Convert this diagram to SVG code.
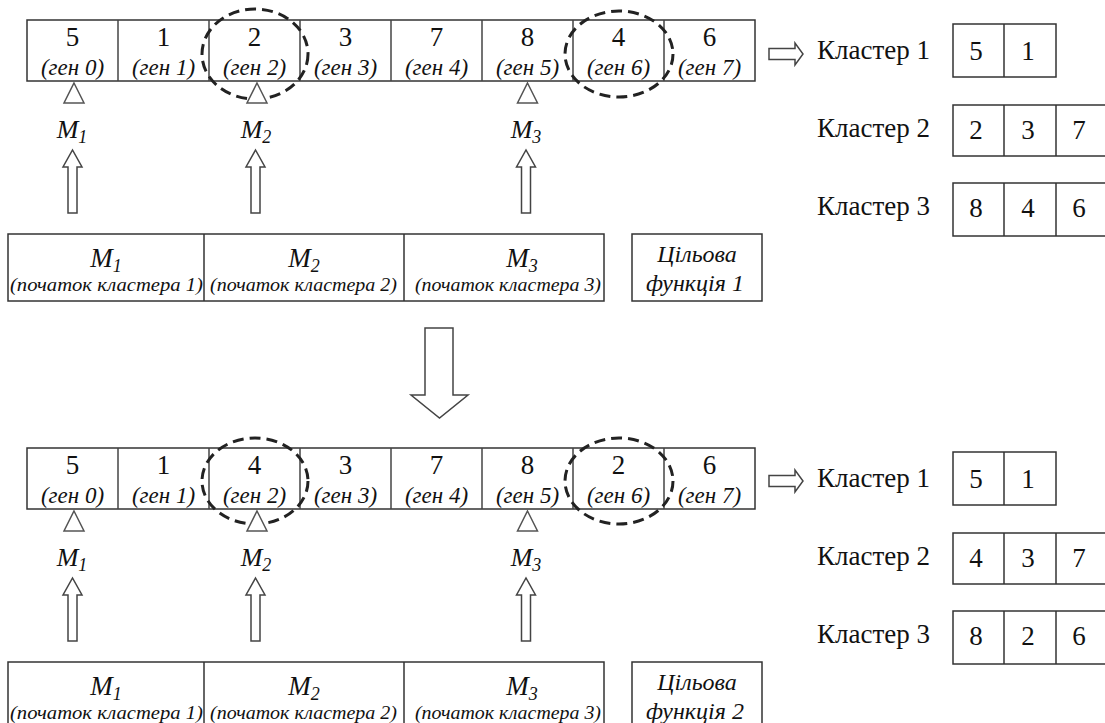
<svg xmlns="http://www.w3.org/2000/svg" width="1105" height="723" viewBox="0 0 1105 723">
<style>
text{font-family:"Liberation Serif","Times New Roman","DejaVu Serif",serif;fill:#111}
.cell{fill:#fff;stroke:#333;stroke-width:1.5}
.num{font-size:27px;text-anchor:middle}
.gen{font-style:italic;font-size:23px;text-anchor:middle}
.lbl{font-size:27px}
.m{font-style:italic;font-size:26px;text-anchor:middle}
.mb{font-style:italic;font-size:27px;text-anchor:middle}
.sub{font-size:18px}
.small{font-style:italic;font-size:19px}
.obj{font-style:italic;font-size:24px;text-anchor:middle}
.tri{fill:#fff;stroke:#555;stroke-width:1.5}
.harrow{fill:#fff;stroke:#444;stroke-width:1.5}
.dash{fill:none;stroke:#222;stroke-width:3;stroke-dasharray:11 6}
</style>
<defs>
<polygon id="upArrow" points="-4.5,0 -4.5,-46 -9.5,-46 0,-63 9.5,-46 4.5,-46 4.5,0"/>
<polygon id="triangle" points="0,0 10,20 -10,20"/>
<polygon id="rArrow" points="0,-5.5 26,-5.5 26,-11 34,0 26,11 26,5.5 0,5.5"/>
</defs>

<g id="chromosome1">
<rect class="cell" x="27" y="20" width="728" height="61"/>
<g stroke="#444" stroke-width="1.5">
<line x1="118" y1="20" x2="118" y2="81"/><line x1="209" y1="20" x2="209" y2="81"/><line x1="300" y1="20" x2="300" y2="81"/><line x1="391" y1="20" x2="391" y2="81"/><line x1="482" y1="20" x2="482" y2="81"/><line x1="573" y1="20" x2="573" y2="81"/><line x1="664" y1="20" x2="664" y2="81"/>
</g>
<text class="num" x="72.5" y="46">5</text><text class="num" x="163.5" y="46">1</text><text class="num" x="254.5" y="46">2</text><text class="num" x="345.5" y="46">3</text><text class="num" x="436.5" y="46">7</text><text class="num" x="527.5" y="46">8</text><text class="num" x="618.5" y="46">4</text><text class="num" x="709.5" y="46">6</text>
<text class="gen" x="72.5" y="75">(ген 0)</text><text class="gen" x="163.5" y="75">(ген 1)</text><text class="gen" x="254.5" y="75">(ген 2)</text><text class="gen" x="345.5" y="75">(ген 3)</text><text class="gen" x="436.5" y="75">(ген 4)</text><text class="gen" x="527.5" y="75">(ген 5)</text><text class="gen" x="618.5" y="75">(ген 6)</text><text class="gen" x="709.5" y="75">(ген 7)</text>
</g>
<g id="swapMarks1">
<ellipse class="dash" cx="255" cy="54" rx="53" ry="45"/>
<ellipse class="dash" cx="619" cy="54" rx="54" ry="43"/>
</g>
<g id="pointers1">
<use href="#triangle" class="tri" x="74" y="83"/>
<use href="#triangle" class="tri" x="257" y="83"/>
<use href="#triangle" class="tri" x="527.5" y="83"/>
<text class="m" x="72" y="138">M<tspan class="sub" dy="5">1</tspan></text>
<text class="m" x="256" y="138">M<tspan class="sub" dy="5">2</tspan></text>
<text class="m" x="526" y="138">M<tspan class="sub" dy="5">3</tspan></text>
</g>
<g id="connectors1">
<use href="#upArrow" class="harrow" x="72.5" y="213"/>
<use href="#upArrow" class="harrow" x="255.5" y="213"/>
<use href="#upArrow" class="harrow" x="526" y="213"/>
<use href="#rArrow" class="harrow" x="769" y="54"/>
</g>
<g id="centers1">
<rect class="cell" x="8" y="234" width="596" height="67"/>
<line x1="204" y1="234" x2="204" y2="301" stroke="#333" stroke-width="1.5"/>
<line x1="404" y1="234" x2="404" y2="301" stroke="#333" stroke-width="1.5"/>
<text class="mb" x="106" y="267">M<tspan class="sub" dy="5">1</tspan></text>
<text class="mb" x="304" y="267">M<tspan class="sub" dy="5">2</tspan></text>
<text class="mb" x="522" y="267">M<tspan class="sub" dy="5">3</tspan></text>
<text class="small" x="10" y="291" textLength="193" lengthAdjust="spacingAndGlyphs">(початок  кластера 1)</text>
<text class="small" x="210" y="291" textLength="187" lengthAdjust="spacingAndGlyphs">(початок кластера 2)</text>
<text class="small" x="415" y="291" textLength="186" lengthAdjust="spacingAndGlyphs">(початок кластера 3)</text>
</g>
<g id="fitness1">
<rect class="cell" x="632" y="234" width="130" height="67"/>
<text class="obj" x="697" y="262">Цільова</text>
<text class="obj" x="695" y="291">функція 1</text>
</g>
<g id="clusters1">
<text class="lbl" x="817" y="59">Кластер 1</text>
<text class="lbl" x="817" y="137">Кластер 2</text>
<text class="lbl" x="817" y="215">Кластер 3</text>
<rect class="cell" x="953" y="24" width="103" height="53"/><line x1="1004" y1="24" x2="1004" y2="77" stroke="#333" stroke-width="1.5"/>
<rect class="cell" x="953" y="105" width="155" height="51"/><line x1="1004" y1="105" x2="1004" y2="156" stroke="#333" stroke-width="1.5"/><line x1="1056" y1="105" x2="1056" y2="156" stroke="#333" stroke-width="1.5"/>
<rect class="cell" x="953" y="183" width="155" height="53"/><line x1="1004" y1="183" x2="1004" y2="236" stroke="#333" stroke-width="1.5"/><line x1="1056" y1="183" x2="1056" y2="236" stroke="#333" stroke-width="1.5"/>
<text class="num" x="976" y="60">5</text><text class="num" x="1028" y="60">1</text>
<text class="num" x="976" y="139">2</text><text class="num" x="1028" y="139">3</text><text class="num" x="1079" y="139">7</text>
<text class="num" x="976" y="217">8</text><text class="num" x="1028" y="217">4</text><text class="num" x="1079" y="217">6</text>
</g>

<g id="transition">
<polygon class="harrow" points="425,328 453,328 453,395 468,395 439.5,418 411,395 425,395"/>
</g>

<g id="chromosome2">
<rect class="cell" x="27" y="448" width="728" height="61"/>
<g stroke="#444" stroke-width="1.5">
<line x1="118" y1="448" x2="118" y2="509"/><line x1="209" y1="448" x2="209" y2="509"/><line x1="300" y1="448" x2="300" y2="509"/><line x1="391" y1="448" x2="391" y2="509"/><line x1="482" y1="448" x2="482" y2="509"/><line x1="573" y1="448" x2="573" y2="509"/><line x1="664" y1="448" x2="664" y2="509"/>
</g>
<text class="num" x="72.5" y="474">5</text><text class="num" x="163.5" y="474">1</text><text class="num" x="254.5" y="474">4</text><text class="num" x="345.5" y="474">3</text><text class="num" x="436.5" y="474">7</text><text class="num" x="527.5" y="474">8</text><text class="num" x="618.5" y="474">2</text><text class="num" x="709.5" y="474">6</text>
<text class="gen" x="72.5" y="503">(ген 0)</text><text class="gen" x="163.5" y="503">(ген 1)</text><text class="gen" x="254.5" y="503">(ген 2)</text><text class="gen" x="345.5" y="503">(ген 3)</text><text class="gen" x="436.5" y="503">(ген 4)</text><text class="gen" x="527.5" y="503">(ген 5)</text><text class="gen" x="618.5" y="503">(ген 6)</text><text class="gen" x="709.5" y="503">(ген 7)</text>
</g>
<g id="swapMarks2">
<ellipse class="dash" cx="255" cy="481" rx="53" ry="43"/>
<ellipse class="dash" cx="619" cy="481" rx="54" ry="43"/>
</g>
<g id="pointers2">
<use href="#triangle" class="tri" x="74" y="511"/>
<use href="#triangle" class="tri" x="257" y="511"/>
<use href="#triangle" class="tri" x="527.5" y="511"/>
<text class="m" x="72" y="566">M<tspan class="sub" dy="5">1</tspan></text>
<text class="m" x="256" y="566">M<tspan class="sub" dy="5">2</tspan></text>
<text class="m" x="526" y="566">M<tspan class="sub" dy="5">3</tspan></text>
</g>
<g id="connectors2">
<use href="#upArrow" class="harrow" x="72.5" y="641"/>
<use href="#upArrow" class="harrow" x="255.5" y="641"/>
<use href="#upArrow" class="harrow" x="526" y="641"/>
<use href="#rArrow" class="harrow" x="769" y="481"/>
</g>
<g id="centers2">
<rect class="cell" x="8" y="662" width="596" height="67"/>
<line x1="204" y1="662" x2="204" y2="729" stroke="#333" stroke-width="1.5"/>
<line x1="404" y1="662" x2="404" y2="729" stroke="#333" stroke-width="1.5"/>
<text class="mb" x="106" y="695">M<tspan class="sub" dy="5">1</tspan></text>
<text class="mb" x="304" y="695">M<tspan class="sub" dy="5">2</tspan></text>
<text class="mb" x="522" y="695">M<tspan class="sub" dy="5">3</tspan></text>
<text class="small" x="10" y="719" textLength="193" lengthAdjust="spacingAndGlyphs">(початок  кластера 1)</text>
<text class="small" x="210" y="719" textLength="187" lengthAdjust="spacingAndGlyphs">(початок кластера 2)</text>
<text class="small" x="415" y="719" textLength="186" lengthAdjust="spacingAndGlyphs">(початок кластера 3)</text>
</g>
<g id="fitness2">
<rect class="cell" x="632" y="662" width="130" height="67"/>
<text class="obj" x="697" y="690">Цільова</text>
<text class="obj" x="695" y="719">функція 2</text>
</g>
<g id="clusters2">
<text class="lbl" x="817" y="487">Кластер 1</text>
<text class="lbl" x="817" y="565">Кластер 2</text>
<text class="lbl" x="817" y="643">Кластер 3</text>
<rect class="cell" x="953" y="452" width="103" height="53"/><line x1="1004" y1="452" x2="1004" y2="505" stroke="#333" stroke-width="1.5"/>
<rect class="cell" x="953" y="533" width="155" height="51"/><line x1="1004" y1="533" x2="1004" y2="584" stroke="#333" stroke-width="1.5"/><line x1="1056" y1="533" x2="1056" y2="584" stroke="#333" stroke-width="1.5"/>
<rect class="cell" x="953" y="611" width="155" height="53"/><line x1="1004" y1="611" x2="1004" y2="664" stroke="#333" stroke-width="1.5"/><line x1="1056" y1="611" x2="1056" y2="664" stroke="#333" stroke-width="1.5"/>
<text class="num" x="976" y="488">5</text><text class="num" x="1028" y="488">1</text>
<text class="num" x="976" y="567">4</text><text class="num" x="1028" y="567">3</text><text class="num" x="1079" y="567">7</text>
<text class="num" x="976" y="645">8</text><text class="num" x="1028" y="645">2</text><text class="num" x="1079" y="645">6</text>
</g>
</svg>
